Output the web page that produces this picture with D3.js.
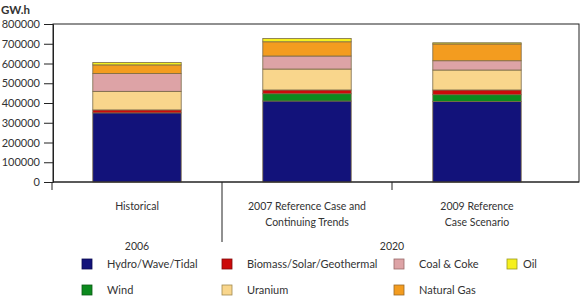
<!DOCTYPE html>
<html>
<head>
<meta charset="utf-8">
<script src="https://cdn.jsdelivr.net/npm/d3@7"></script>
<style>
html,body{margin:0;padding:0;background:#fff;}
svg{display:block;}
text{font-family:Lato,"Open Sans",sans-serif;fill:#333;}
</style>
</head>
<body>
<svg id="chart" width="580" height="297"></svg>
<script>
const categories = ["Historical", "2007 Reference Case and|Continuing Trends", "2009 Reference|Case Scenario"];
const groupLabels = ["2006", "2020"];
const series = ["Hydro/Wave/Tidal", "Wind", "Biomass/Solar/Geothermal", "Uranium", "Coal & Coke", "Natural Gas", "Oil"];
const hydro   = [350000, 410000, 408000];
const wind    = [0, 37000, 34000];
const biomass = [15000, 19000, 24000];
const uranium = [94000, 106000, 101000];
const coal    = [90000, 66000, 47000];
const gas     = [44000, 72000, 85000];
const oil     = [12000, 17000, 6000];
const yTicks = [0, 100000, 200000, 300000, 400000, 500000, 600000, 700000, 800000];
const colors = ["#12127a", "#0c8a1e", "#cc0a0a", "#f9d68c", "#dda3a6", "#f39c1f", "#f6f01e"];
const borders = ["#0a0a50", "#0a5a14", "#800a0a", "#a08a50", "#9a6a6a", "#9a6a2a", "#9a9a20"];

const valuesBySeries = [hydro, wind, biomass, uranium, coal, gas, oil];
const rows = categories.map((c, i) => {
  const r = {cat: c};
  series.forEach((s, j) => r[s] = valuesBySeries[j][i]);
  return r;
});

const svg = d3.select("#chart");
const mLeft = 53, mRight = 579, mTop = 24, mBottom = 182;

const y = d3.scaleLinear().domain([0, 800000]).range([mBottom, mTop]);
const x = d3.scaleBand().domain(categories).range([52, 562]).paddingInner(0.48).paddingOuter(0.24);

const stack = d3.stack().keys(series)(rows);

// frame
svg.append("rect").attr("x", mLeft).attr("y", mTop).attr("width", mRight - mLeft).attr("height", mBottom - mTop)
  .attr("fill", "none").attr("stroke", "#222").attr("stroke-width", 1);

// bars
stack.forEach((layer, j) => {
  svg.append("g").selectAll("rect").data(layer).join("rect")
    .attr("x", d => x(d.data.cat))
    .attr("width", x.bandwidth())
    .attr("y", d => y(d[1]))
    .attr("height", d => Math.max(0, y(d[0]) - y(d[1])))
    .attr("fill", colors[j])
    .attr("stroke", d => (d[1] - d[0]) > 0 ? "#7a6a48" : "none")
    .attr("stroke-width", 0.8);
});

// y axis
const yAxis = d3.axisLeft(y).tickValues(yTicks).tickSize(9).tickPadding(4).tickFormat(d3.format("d"));
const ga = svg.append("g").attr("transform", `translate(${mLeft},0)`).call(yAxis);
ga.select(".domain").attr("stroke", "#222");
ga.selectAll(".tick line").attr("stroke", "#222");
ga.selectAll(".tick text").attr("font-size", 11).attr("fill", "#333").style("font-family", "Lato, sans-serif");

// bottom axis line
svg.append("line").attr("x1", mLeft).attr("x2", mRight).attr("y1", mBottom).attr("y2", mBottom).attr("stroke", "#222");

// category separator ticks
const step = x.step();
const b0 = x(categories[0]) - x.paddingOuter() * step;
const seps = [b0, b0 + step, b0 + 2 * step];
const sepLen = [8, 60, 8];
svg.append("g").selectAll("line").data(seps).join("line")
  .attr("x1", d => d).attr("x2", d => d)
  .attr("y1", mBottom).attr("y2", (d, i) => mBottom + sepLen[i])
  .attr("stroke", "#222").attr("stroke-width", 1);

// category labels
categories.forEach(c => {
  const lines = c.split("|");
  const cx = x(c) + x.bandwidth() / 2;
  lines.forEach((l, k) => {
    svg.append("text").attr("x", cx).attr("y", 210 + k * 16)
      .attr("text-anchor", "middle").attr("font-size", 10.5).text(l);
  });
});
// group labels
const groupCenters = [x(categories[0]) + x.bandwidth() / 2, b0 + 2 * step];
groupLabels.forEach((g, i) => {
  svg.append("text").attr("x", groupCenters[i]).attr("y", 250)
    .attr("text-anchor", "middle").attr("font-size", 10.5).text(g);
});

// y title
svg.append("text").attr("x", 1).attr("y", 14).attr("font-size", 11.5).attr("font-weight", "bold")
  .attr("fill", "#222").text("GW.h");

// legend
const legendPos = [
  [82, 264], [82, 290], [222, 264], [222, 290], [394, 264], [394, 290], [507, 264]
];
const lg = svg.append("g");
series.forEach((s, j) => {
  const [lx, ly] = legendPos[j];
  lg.append("rect").attr("x", lx).attr("y", ly - 5).attr("width", 10).attr("height", 10)
    .attr("fill", colors[j]).attr("stroke", borders[j]).attr("stroke-width", 0.8);
  lg.append("text").attr("x", lx + (j === 6 ? 16 : 25)).attr("y", ly + 4)
    .attr("font-size", 11).text(s);
});
</script>
</body>
</html>
